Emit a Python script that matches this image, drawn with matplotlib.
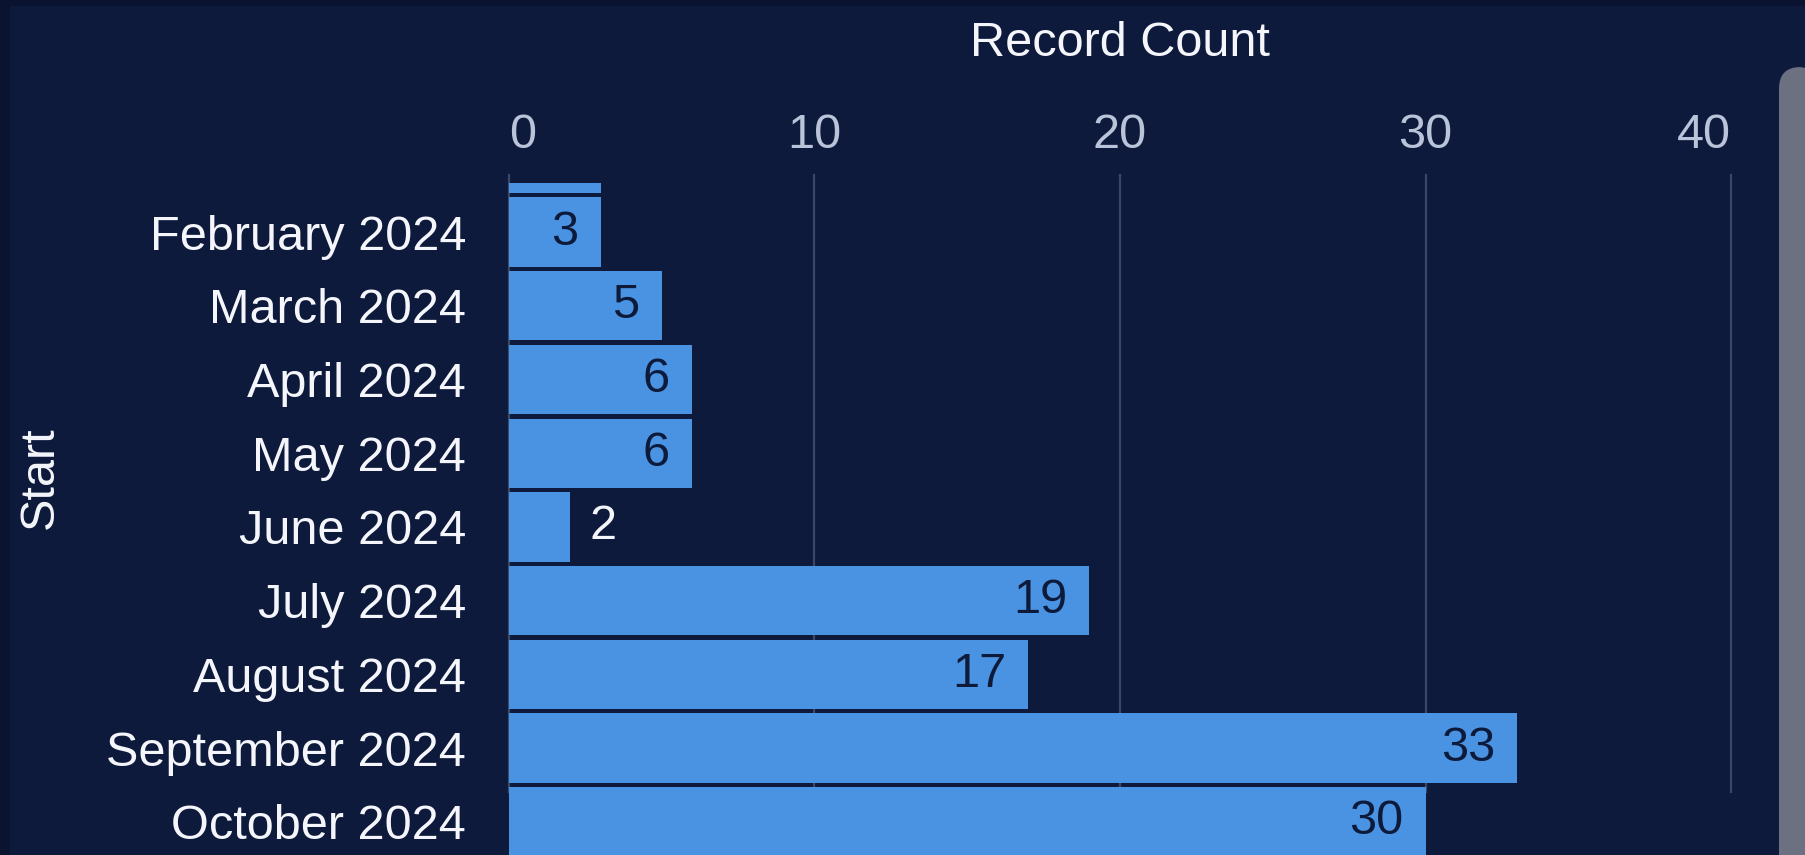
import matplotlib
matplotlib.use("Agg")
import matplotlib.pyplot as plt
from matplotlib.patches import FancyBboxPatch, Rectangle

months = ["January 2024", "February 2024", "March 2024", "April 2024", "May 2024",
          "June 2024", "July 2024", "August 2024", "September 2024", "October 2024"]
counts = [3, 3, 5, 6, 6, 2, 19, 17, 33, 30]
x_ticks = [0, 10, 20, 30, 40]
x_label = "Record Count"
y_label = "Start"

BG = "#0e1a3b"
BAR = "#4a93e2"
GRID = "#3b4764"
TICK = "#b9c3d9"
WHITE = "#f4f6fb"
FS = 35

plt.rcParams['font.family'] = ['Liberation Sans', 'DejaVu Sans']

W, H = 1806, 855
fig = plt.figure(figsize=(W / 100, H / 100), dpi=100, facecolor=BG)

# darker frame strips (top/left)
fig.patches.append(Rectangle((0, 1 - 6 / H), 1, 6 / H, transform=fig.transFigure,
                             facecolor="#0a1431", edgecolor="none", zorder=0))
fig.patches.append(Rectangle((0, 0), 10 / W, 1, transform=fig.transFigure,
                             facecolor="#0a1431", edgecolor="none", zorder=0))

ax_left, ax_right = 509 / W, 1731 / W
ax_top = 1 - 183 / H
ax = fig.add_axes([ax_left, 0, ax_right - ax_left, ax_top])
ax.set_facecolor(BG)

ypos = list(range(len(months)))
ax.barh(ypos, counts, height=0.94, color=BAR, edgecolor="none", zorder=2)

ax.xaxis.tick_top()
ax.set_xticks(x_ticks)
ax.set_xticklabels([str(t) for t in x_ticks])
ax.tick_params(axis="x", length=0, pad=18, labelsize=FS, labelcolor=TICK)
xl = ax.get_xticklabels()
xl[0].set_ha("left")
xl[-1].set_ha("right")

ax.set_yticks(ypos)
ax.set_yticklabels(months)
ax.tick_params(axis="y", length=0, pad=31, labelsize=FS, labelcolor=WHITE)

ax.set_xlim(0, 40)
ax.set_ylim(9.45, 0.335)

# gridlines
for t in x_ticks:
    ax.axvline(t, ymin=0.094, ymax=1.012, color=GRID, lw=1.6, zorder=1, clip_on=False)

for s in ax.spines.values():
    s.set_visible(False)

# value labels
px_per_unit = (ax_right - ax_left) * W / 40
for y, v in zip(ypos, counts):
    if v * px_per_unit > 70:
        ax.annotate(str(v), (v, y), xytext=(-16, 0), textcoords="offset points",
                    ha="right", va="center", fontsize=FS, color="#0d1a3a", zorder=3)
    else:
        ax.annotate(str(v), (v, y), xytext=(14, 0), textcoords="offset points",
                    ha="left", va="center", fontsize=FS, color=WHITE, zorder=3)

fig.text((ax_left + ax_right) / 2, 1 - 44 / H, x_label, ha="center", va="center",
         fontsize=FS, color=WHITE)
fig.text(40 / W, 1 - 478 / H, y_label, ha="center", va="center", rotation=90,
         fontsize=FS, color=WHITE)

# scrollbar
fig.patches.append(FancyBboxPatch((1779 / W, -20 / H), 40 / W, (855 - 67 + 20) / H,
                                  boxstyle="round,pad=0,rounding_size=0.012",
                                  transform=fig.transFigure, facecolor="#6c7182",
                                  edgecolor="none", zorder=5, mutation_aspect=W / H))

fig.savefig("out.png", dpi=100, facecolor=BG)
